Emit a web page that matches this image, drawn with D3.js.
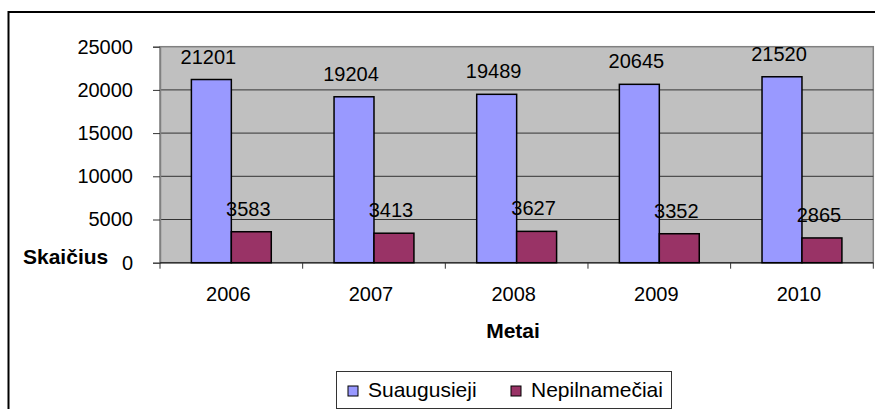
<!DOCTYPE html>
<html>
<head>
<meta charset="utf-8">
<script src="https://cdn.jsdelivr.net/npm/d3@7/dist/d3.min.js"></script>
<style>
  body { margin: 0; background: #fff; }
  svg { display: block; font-family: Arial, "Liberation Sans", sans-serif; }
</style>
</head>
<body>
<div id="chart"></div>
<script>
// values
var years = ["2006", "2007", "2008", "2009", "2010"];
var seriesNames = ["Suaugusieji", "Nepilnamečiai"];
var adults = [21201, 19204, 19489, 20645, 21520];
var minors = [3583, 3413, 3627, 3352, 2865];
var yTicks = [0, 5000, 10000, 15000, 20000, 25000];
var colors = ["#9999FF", "#993366"];

var width = 875, height = 409;
var svg = d3.select("#chart").append("svg")
  .attr("width", width)
  .attr("height", height);

// outer chart frame (runs off the right and bottom edge)
svg.append("path")
  .attr("d", "M8.5," + (height + 5) + "V12H" + (width + 5))
  .attr("fill", "none")
  .attr("stroke", "#000")
  .attr("stroke-width", 2);

var plot = {left: 160, right: 873.3, top: 46.7, bottom: 262.7};

var x0 = d3.scaleBand().domain(years).range([plot.left, plot.right]).padding(0);
var x1 = d3.scaleBand().domain(seriesNames)
  .range([x0.bandwidth() * 0.22, x0.bandwidth() * 0.78]);
var y = d3.scaleLinear().domain([0, 25000]).range([plot.bottom, plot.top]);

// plot background
svg.append("rect")
  .attr("x", plot.left).attr("y", plot.top)
  .attr("width", plot.right - plot.left).attr("height", plot.bottom - plot.top)
  .attr("fill", "#C0C0C0")
  .attr("stroke", "#808080")
  .attr("stroke-width", 1.5);

// gridlines
svg.append("g").selectAll("line")
  .data(yTicks.filter(d => d > 0 && d < 25000))
  .enter().append("line")
    .attr("x1", plot.left).attr("x2", plot.right)
    .attr("y1", d => y(d)).attr("y2", d => y(d))
    .attr("stroke", "#333")
    .attr("stroke-width", 1);

// y axis
var yAxis = svg.append("g")
  .attr("transform", "translate(" + plot.left + ",0)")
  .call(d3.axisLeft(y).tickValues(yTicks).tickSize(7).tickPadding(20).tickFormat(d3.format("d")));
yAxis.select(".domain").attr("stroke", "#808080").attr("stroke-width", 1.5);
yAxis.selectAll(".tick line").attr("stroke", "#333");
yAxis.selectAll("text")
  .attr("font-size", 20)
  .attr("font-family", "Arial, 'Liberation Sans', sans-serif")
  .attr("fill", "#000");

// x axis: ticks at category boundaries
var xg = svg.append("g");
xg.append("line")
  .attr("x1", plot.left).attr("x2", plot.right)
  .attr("y1", plot.bottom).attr("y2", plot.bottom)
  .attr("stroke", "#333").attr("stroke-width", 1.5);
xg.selectAll("line.tk")
  .data(years.map(d => x0(d)).concat([plot.right]))
  .enter().append("line")
    .attr("class", "tk")
    .attr("x1", d => d).attr("x2", d => d)
    .attr("y1", plot.bottom).attr("y2", plot.bottom + 6)
    .attr("stroke", "#333");
xg.selectAll("text")
  .data(years)
  .enter().append("text")
    .attr("x", d => x0(d) + x0.bandwidth() / 2 - 3)
    .attr("y", 301)
    .attr("text-anchor", "middle")
    .attr("font-size", 20)
    .text(d => d);

// bars
var rows = years.map((yr, i) => ({year: yr, vals: [adults[i], minors[i]]}));
var groups = svg.append("g").selectAll("g")
  .data(rows)
  .enter().append("g")
    .attr("transform", d => "translate(" + x0(d.year) + ",0)");

groups.selectAll("rect")
  .data(d => d.vals.map((v, k) => ({name: seriesNames[k], value: v, k: k})))
  .enter().append("rect")
    .attr("x", d => x1(d.name))
    .attr("y", d => y(d.value))
    .attr("width", x1.bandwidth())
    .attr("height", d => plot.bottom - y(d.value))
    .attr("fill", d => colors[d.k])
    .attr("stroke", "#000")
    .attr("stroke-width", 1.5);

groups.selectAll("text")
  .data(d => d.vals.map((v, k) => ({name: seriesNames[k], value: v, k: k})))
  .enter().append("text")
    .attr("x", d => x1(d.name) + x1.bandwidth() / 2 - 3)
    .attr("y", d => y(d.value) - 16)
    .attr("text-anchor", "middle")
    .attr("font-size", 20)
    .text(d => d.value);

// axis titles
svg.append("text")
  .attr("x", 23).attr("y", 264)
  .attr("font-size", 21).attr("font-weight", "bold")
  .text("Skaičius");
svg.append("text")
  .attr("x", 513).attr("y", 338)
  .attr("text-anchor", "middle")
  .attr("font-size", 21).attr("font-weight", "bold")
  .text("Metai");

// legend
var legend = svg.append("g");
legend.append("rect")
  .attr("x", 336.5).attr("y", 371.5)
  .attr("width", 335).attr("height", 37)
  .attr("fill", "#fff")
  .attr("stroke", "#333");
var legendX = [348, 511];
var li = legend.selectAll("g")
  .data(seriesNames)
  .enter().append("g")
    .attr("transform", (d, i) => "translate(" + legendX[i] + ",386)");
li.append("rect")
  .attr("width", 10).attr("height", 10)
  .attr("fill", (d, i) => colors[i])
  .attr("stroke", "#000");
li.append("text")
  .attr("x", 20).attr("y", 11)
  .attr("font-size", 21)
  .text(d => d);
</script>
</body>
</html>
